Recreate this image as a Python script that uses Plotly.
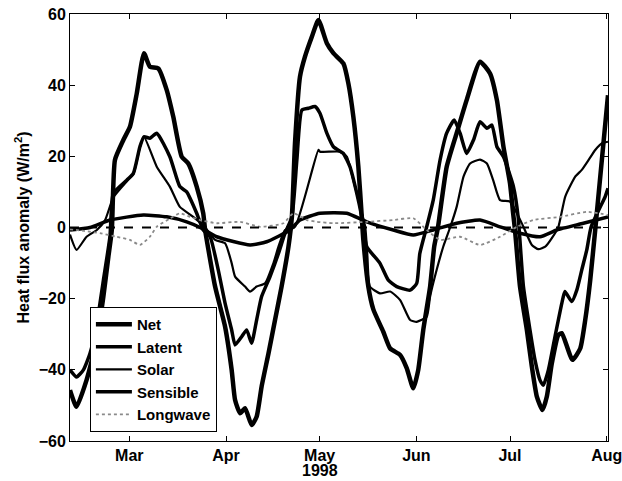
import pandas as pd
import plotly.graph_objects as go

# days counted from 1 Jan 1998 (fractional), values in W/m^2
net_day = [40.0, 42.1, 45.3, 48.6, 50.7, 52.3, 53.4, 54.4, 57.1, 59.2,
           61.4, 63.7, 65.6, 68.3, 71.0, 73.1, 75.8, 77.9, 80.6, 82.7,
           83.3, 86.5, 89.7, 91.8, 92.9, 94.5, 96.1, 98.2, 99.8, 101.4,
           103.6, 105.7, 107.8, 110.0, 111.1, 112.1, 113.7, 115.3, 117.5, 119.6,
           122.3, 124.4, 127.6, 129.2, 130.8, 132.4, 133.5, 134.0, 135.6, 137.2,
           140.4, 142.6, 145.8, 147.9, 150.0, 151.6, 153.2, 155.4, 156.7, 157.9,
           160.7, 163.9, 167.1, 171.4, 174.6, 176.8, 178.9, 181.0, 182.0, 182.6,
           184.2, 186.4, 188.0, 189.6, 191.4, 192.8, 194.4, 196.5, 197.6, 201.0,
           203.5, 205.1, 206.7, 208.3, 212.4]
net = [-45.7, -50.4, -42.9, -31.6, -19.4, -8.2, -0.7, 19, 24.6, 28.3,
       37.7, 49, 45.2, 44.7, 38.6, 31.1, 19.9, 18, 11.5, 4,
       -0.7, -16.6, -27.9, -40, -48.5, -52.2, -50.8, -55.5, -53.2, -44.7,
       -35.4, -26, -16.6, -5.4, 3, 23.7, 42.4, 48, 53.6, 58.3,
       51.8, 49, 46.1, 40.5, 31.1, 17.1, 3, -3.5, -16.6, -23,
       -29.3, -34, -35.8, -39.5, -45.2, -40, -28.8, -16.6, -5.4, 0,
       17, 26.5, 35.8, 46.6, 43.3, 35.8, 22.7, 12.4, 4, -0.7,
       -16.6, -28.8, -39.1, -47.5, -51.3, -47.5, -38.2, -30.2, -29.7, -37.2,
       -34, -26, -14.8, -0.7, 37.2]

latent_day = [40.0, 42.1, 44.3, 46.4, 48.6, 50.7, 52.8, 53.9, 58.2, 60.3,
              62.4, 63.7, 65.6, 67.8, 72.0, 75.2, 77.4, 80.6, 82.7, 84.9,
              87.5, 89.7, 91.8, 92.9, 95.0, 96.6, 98.2, 99.8, 101.4, 104.1,
              106.8, 108.9, 111.1, 112.7, 114.3, 116.4, 118.5, 120.1, 122.3, 124.4,
              127.6, 129.7, 131.9, 133.5, 135.1, 139.3, 142.0, 144.7, 149.0, 151.1,
              152.1, 154.3, 156.4, 158.6, 160.7, 163.1, 165.0, 167.1, 169.3, 171.4,
              173.6, 175.2, 176.8, 178.9, 182.1, 183.6, 185.3, 187.4, 189.0, 190.6,
              191.7, 193.3, 195.4, 197.6, 198.6, 200.8, 202.4, 204.0, 205.6, 207.0,
              211.5, 212.4]
latent = [-40, -42, -40, -35.4, -26.9, -14.8, -2.6, 9.6, 13.3, 15.2,
          22.7, 25.5, 25.1, 26.5, 19.9, 11.5, 10, 4, -0.7, -2.6,
          -11.9, -21.3, -28.8, -33, -30.7, -28.8, -32.5, -26, -19.4, -13.8,
          -7.3, -1.6, 3, 19, 33, 33.5, 34, 32.1, 26.5, 22.7,
          20.8, 17.1, 9.6, 3, -5.4, -10, -14.8, -16.6, -17.6, -15.7,
          -7.3, 0.2, 7.7, 19, 26.5, 30.2, 26.5, 20.8, 24.6, 29.7,
          27.9, 28.8, 22.7, 19.9, 11.5, 3, -16.6, -28.8, -37.2, -42.9,
          -44.3, -40, -30.7, -21.3, -18, -20.8, -17.6, -11.9, -6.3, 0.2,
          8.7, 11]

solar_day = [40.0, 42.1, 45.3, 48.6, 51.2, 53.9, 58.2, 60.3, 62.4, 63.7,
             67.8, 72.0, 75.2, 79.5, 83.3, 86.5, 89.7, 91.8, 92.9, 96.1,
             97.7, 99.8, 102.5, 105.2, 106.8, 108.9, 112.1, 119.6, 120.1, 126.5,
             128.7, 130.8, 133.0, 134.6, 135.3, 136.1, 139.3, 142.6, 145.8, 149.0,
             151.1, 154.3, 155.4, 157.5, 159.6, 161.8, 163.9, 166.1, 168.2, 171.4,
             173.6, 175.6, 177.8, 181.0, 183.2, 185.3, 188.0, 190.1, 192.3, 194.4,
             196.5, 198.7, 201.9, 204.0, 206.2, 208.3, 210.5, 212.4]
solar = [-2, -6.3, -2.6, -0.7, 2, 8.5, 13, 15, 22.5, 25.5,
         17.1, 11.5, 5.8, 3, 0, -3.5, -4.4, -10, -13.8, -16.6,
         -18, -16.6, -15.7, -10, -5.4, -0.7, 0.2, 21.8, 21.3, 21.3,
         19.9, 13.3, 5.8, 0.2, -8, -16.6, -18.5, -18, -20.4, -26,
         -26.5, -25.1, -19.4, -11.9, -5.4, 0, 5.8, 14.3, 18, 19.1,
         18, 13.3, 7.7, 7.3, 4, 0.2, -4.9, -6.1, -5.4, -3,
         0.2, 8.7, 14.3, 16.2, 19, 21.8, 23.7, 24.1]

sensible_day = [40.0, 46.4, 52.8, 63.5, 71.0, 77.4, 81.7, 87.0, 97.7, 103.0,
                110.5, 113.7, 120.1, 128.7, 135.1, 143.6, 150.0, 156.4, 163.9, 171.4,
                177.8, 184.2, 190.6, 196.0, 204.5, 212.4]
sensible = [-0.7, 0, 2.1, 3.5, 3, 1.6, 0, -2.6, -4.9, -4,
            -0.7, 2.1, 4, 4, 1.6, -0.7, -2.1, -0.7, 1.2, 2.1,
            0.2, -1.6, -2.6, -0.7, 1.2, 3]

longwave_day = [40.0, 44.8, 49.6, 55.0, 59.2, 62.4, 65.6, 67.8, 72.0, 75.2,
                78.5, 81.7, 87.0, 94.5, 100.9, 108.4, 111.6, 115.9, 119.1, 124.4,
                135.1, 143.6, 150.0, 154.3, 158.6, 165.0, 171.4, 177.8, 183.2, 188.5,
                197.1, 205.6, 212.4]
longwave = [-0.5, -1, -1.6, -2.6, -3.5, -4.9, -2.6, 0.2, 2.5, 4,
            3, 2.1, 1.2, 1.6, 0.2, 1.2, 4, 2.1, 1.6, 1.2,
            1.6, 2.1, 2.6, -0.7, -3.5, -2.6, -4.9, -2.6, 0.2, 2.1,
            3, 4.4, 3.5]

month_ticks = ['1998-03-01', '1998-04-01', '1998-05-01', '1998-06-01', '1998-07-01', '1998-08-01']
month_labels = ['Mar', 'Apr', 'May', 'Jun', 'Jul', 'Aug']
year_label = '1998'

base = pd.Timestamp('1998-01-01')
def to_dates(days):
    return base + pd.to_timedelta(days, unit='D')

series = [
    ('Net', net_day, net, dict(color='black', width=4.5)),
    ('Latent', latent_day, latent, dict(color='black', width=3.5)),
    ('Solar', solar_day, solar, dict(color='black', width=2.2)),
    ('Sensible', sensible_day, sensible, dict(color='black', width=3.5)),
    ('Longwave', longwave_day, longwave, dict(color='#8a8a8a', width=1.8, dash='dot')),
]

fig = go.Figure()
for name, d, v, line in series:
    fig.add_trace(go.Scatter(x=to_dates(d), y=v, mode='lines', name=name,
                             line=dict(shape='spline', smoothing=0.5, **line)))

fig.add_hline(y=0, line=dict(color='black', width=2, dash='dash'))

fam = 'Liberation Sans, Arial'
bold = dict(family=fam, size=16, color='black', weight='bold')

fig.add_annotation(x=month_ticks[2], y=-0.07, xref='x', yref='paper',
                   text=year_label, showarrow=False, yanchor='middle',
                   font=bold)

fig.update_layout(
    width=622, height=481,
    margin=dict(l=70, r=14, t=14, b=40),
    paper_bgcolor='white', plot_bgcolor='white',
    font=bold,
    showlegend=True,
    legend=dict(x=0.037, y=0.021, xanchor='left', yanchor='bottom',
                bgcolor='white', bordercolor='black', borderwidth=1,
                font=dict(family=fam, size=15, color='black', weight='bold'),
                itemwidth=36, tracegroupgap=0),
    xaxis=dict(range=[to_dates([40.0])[0], to_dates([212.4])[0]],
               tickvals=month_ticks, ticktext=month_labels,
               ticks='inside', ticklen=5, tickcolor='black',
               showline=True, linecolor='black', linewidth=1, mirror='ticks',
               showgrid=False, zeroline=False, tickfont=bold,
               automargin=False, ticklabeloverflow='allow'),
    yaxis=dict(range=[-60, 60], tickvals=[-60, -40, -20, 0, 20, 40, 60],
               ticks='inside', ticklen=5, tickcolor='black',
               showline=True, linecolor='black', linewidth=1, mirror='ticks',
               showgrid=False, zeroline=False, tickfont=bold,
               automargin=False, ticklabeloverflow='allow',
               title=dict(text='Heat flux anomaly (W/m<sup>2</sup>)',
                          font=dict(family=fam, size=16, color='black', weight='bold'),
                          standoff=5)),
)

# drop the default page margin so the figure sits at the window's corner
fig.write_html("out.html", config={'displayModeBar': False},
               post_script="document.body.style.margin='0';")
